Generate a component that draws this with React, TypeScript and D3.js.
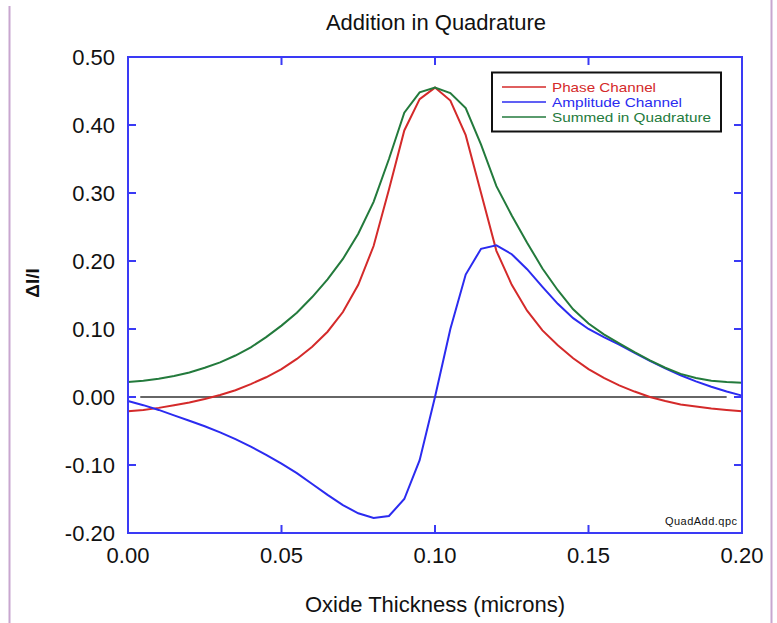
import * as d3 from "d3";

// thickness samples (microns)
const thickness = [
  0.0, 0.005, 0.01, 0.015, 0.02, 0.025, 0.03, 0.035, 0.04, 0.045, 0.05,
  0.055, 0.06, 0.065, 0.07, 0.075, 0.08, 0.085, 0.09, 0.095, 0.1,
  0.105, 0.11, 0.115, 0.12, 0.125, 0.13, 0.135, 0.14, 0.145, 0.15,
  0.155, 0.16, 0.165, 0.17, 0.175, 0.18, 0.185, 0.19, 0.195, 0.2,
];

const phase = [
  -0.021, -0.019, -0.016, -0.012, -0.008, -0.003, 0.003, 0.01, 0.019, 0.029, 0.041,
  0.056, 0.074, 0.096, 0.125, 0.165, 0.222, 0.305, 0.392, 0.438, 0.455,
  0.436, 0.385, 0.3, 0.215, 0.165, 0.127, 0.098, 0.076, 0.057, 0.041,
  0.028, 0.017, 0.008, 0.0, -0.006, -0.011, -0.014, -0.017, -0.019, -0.021,
];

const amplitude = [
  -0.006, -0.012, -0.019, -0.027, -0.035, -0.043, -0.052, -0.062, -0.073, -0.085, -0.098,
  -0.112, -0.128, -0.144, -0.159, -0.171, -0.178, -0.175, -0.15, -0.093, 0.0,
  0.1, 0.18, 0.218, 0.223, 0.21, 0.188, 0.162, 0.137, 0.116, 0.1,
  0.088, 0.077, 0.065, 0.053, 0.042, 0.032, 0.023, 0.015, 0.008, 0.002,
];

const summed = [
  0.022, 0.024, 0.027, 0.031, 0.036, 0.043, 0.051, 0.061, 0.073, 0.088, 0.105,
  0.124, 0.147, 0.173, 0.203, 0.24, 0.287, 0.35, 0.418, 0.448, 0.455,
  0.447, 0.425, 0.371, 0.31, 0.267, 0.227, 0.189, 0.157, 0.129, 0.108,
  0.092, 0.079, 0.066, 0.054, 0.043, 0.034, 0.028, 0.024, 0.022, 0.021,
];

const xTicks = [0, 0.05, 0.1, 0.15, 0.2];
const yTicks = [-0.2, -0.1, 0, 0.1, 0.2, 0.3, 0.4, 0.5];
const zeroLine = [0.004, 0.195];

const seriesNames = ["Phase Channel", "Amplitude Channel", "Summed in Quadrature"];
const seriesColors = ["#d42a2a", "#2b2bf0", "#237a3c"];
const legendWidths = [104, 130, 159];

export default function App() {
  const width = 777;
  const height = 623;
  const left = 128, right = 742, top = 57, bottom = 533;
  const font = "'Liberation Sans', Arial, sans-serif";

  const x = d3.scaleLinear().domain([0, 0.2]).range([left, right]);
  const y = d3.scaleLinear().domain([-0.2, 0.5]).range([bottom, top]);

  const line = d3
    .line<number>()
    .x((_, i) => x(thickness[i]))
    .y((d) => y(d));

  const series = [phase, amplitude, summed];
  const axisColor = "#3a3af5";
  const tick = 8;
  const fmt = (v: number) => v.toFixed(2);

  return (
    <svg
      width={width}
      height={height}
      style={{ position: "absolute", left: 0, top: 0, background: "#fff" }}
      fontFamily={font}
    >
      <line x1={9.5} x2={9.5} y1={6} y2={height} stroke="#c8a6cf" strokeWidth={2} />
      <line x1={771.5} x2={771.5} y1={0} y2={height} stroke="#c8a6cf" strokeWidth={2} />

      <text x={436} y={30} textAnchor="middle" fontSize={22} fill="#111">
        Addition in Quadrature
      </text>

      {/* zero reference */}
      <line
        x1={x(zeroLine[0])}
        x2={x(zeroLine[1])}
        y1={y(0)}
        y2={y(0)}
        stroke="#333"
        strokeWidth={1.5}
      />

      {series.map((s, i) => (
        <path key={i} d={line(s) ?? ""} fill="none" stroke={seriesColors[i]} strokeWidth={2} />
      ))}

      {/* frame */}
      <rect
        x={left}
        y={top}
        width={right - left}
        height={bottom - top}
        fill="none"
        stroke={axisColor}
        strokeWidth={2}
      />

      {xTicks.map((t) => (
        <g key={"x" + t}>
          <line x1={x(t)} x2={x(t)} y1={bottom} y2={bottom - tick} stroke={axisColor} strokeWidth={2} />
          <line x1={x(t)} x2={x(t)} y1={top} y2={top + tick} stroke={axisColor} strokeWidth={2} />
          <text x={x(t)} y={563} textAnchor="middle" fontSize={22} fill="#111">
            {fmt(t)}
          </text>
        </g>
      ))}

      {yTicks.map((t) => (
        <g key={"y" + t}>
          <line x1={left} x2={left + tick} y1={y(t)} y2={y(t)} stroke={axisColor} strokeWidth={2} />
          <line x1={right} x2={right - tick} y1={y(t)} y2={y(t)} stroke={axisColor} strokeWidth={2} />
          <text x={115} y={y(t) + 8} textAnchor="end" fontSize={22} fill="#111">
            {fmt(t)}
          </text>
        </g>
      ))}

      <text x={435} y={612} textAnchor="middle" fontSize={22} fill="#111">
        Oxide Thickness (microns)
      </text>
      <text
        transform="translate(39,283) rotate(-90)"
        textAnchor="middle"
        fontSize={19}
        fontWeight="bold"
        fill="#111"
      >
        ΔI/I
      </text>

      {/* legend */}
      <rect x={492} y={72.5} width={229} height={59} fill="#fff" stroke="#111" strokeWidth={2} />
      {seriesNames.map((name, i) => (
        <g key={name} transform={`translate(0,${87 + i * 15})`}>
          <line x1={502} x2={546} y1={0} y2={0} stroke={seriesColors[i]} strokeWidth={1.5} />
          <text
            x={552}
            y={5}
            fontSize={13}
            fill={seriesColors[i]}
            textLength={legendWidths[i]}
            lengthAdjust="spacingAndGlyphs"
          >
            {name}
          </text>
        </g>
      ))}

      <text x={737} y={525} textAnchor="end" fontSize={11} fill="#111" textLength={72}>
        QuadAdd.qpc
      </text>
    </svg>
  );
}
